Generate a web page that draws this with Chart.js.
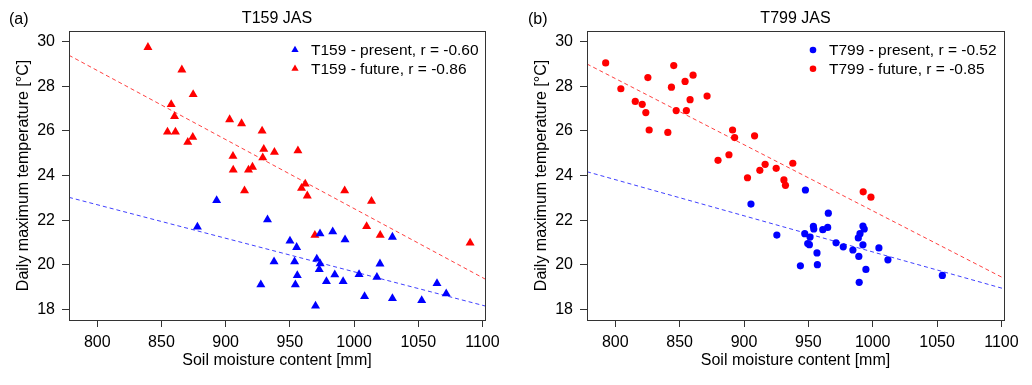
<!DOCTYPE html>
<html>
<head>
<meta charset="utf-8">
<script src="https://cdn.jsdelivr.net/npm/chart.js@4/dist/chart.umd.min.js"></script>
<style>
  html, body { margin: 0; padding: 0; background: #fff; }
  #wrap { display: flex; width: 1032px; height: 385px; }
  canvas { display: block; }
</style>
</head>
<body>
<div id="wrap">
  <canvas id="c159" width="516" height="385"></canvas>
  <canvas id="c799" width="516" height="385"></canvas>
</div>
<script>
// Axis ticks and ranges
const xTicks = [800, 850, 900, 950, 1000, 1050, 1100];
const yTicks = [18, 20, 22, 24, 26, 28, 30];
const xRange = [778, 1102];
const yRange = [17.52, 30.48];

// T159 (triangles)
const t159PresentSoil = [893, 878, 932.6, 973.5, 983.4, 993, 1029.9, 950.1, 955.3, 937.7, 953.7, 971, 973.6, 972.9, 1020.2, 955.8, 985, 1003.9, 1017.8, 927.4, 954.3, 978.5, 991.5, 1064.6, 1008.2, 1029.9, 1052.7, 1071.8, 970];
const t159PresentTemp = [22.88, 21.69, 22.02, 21.39, 21.48, 21.12, 21.24, 21.07, 20.78, 20.14, 20.14, 20.26, 20.05, 19.79, 20.04, 19.52, 19.55, 19.56, 19.44, 19.10, 19.10, 19.25, 19.25, 19.16, 18.58, 18.49, 18.40, 18.70, 18.15];
const t159FutureSoil = [839.5, 865.9, 874.7, 857.6, 860.2, 854.7, 860.9, 870.5, 874.4, 903.1, 912.4, 928.4, 929.7, 928.9, 938, 956.3, 905.7, 905.9, 917.8, 920.9, 914.7, 959.1, 962, 963.6, 992.7, 1013.6, 1009.8, 1020.4, 969.5, 1090.4];
const t159FutureTemp = [29.75, 28.74, 27.64, 27.19, 26.65, 25.95, 25.95, 25.49, 25.72, 26.51, 26.33, 26.0, 25.18, 24.8, 25.05, 25.11, 24.87, 24.25, 24.25, 24.38, 23.32, 23.43, 23.62, 23.09, 23.32, 22.85, 21.72, 21.32, 21.32, 20.98];
// regression lines: y at xRange[0] and xRange[1]
const t159PresentFit = [23.02, 18.15];
const t159FutureFit = [29.39, 19.36];

// T799 (circles)
const t799PresentSoil = [947.7, 905.4, 965.5, 925.5, 947.2, 951.3, 953.9, 954.2, 961.2, 965, 949.5, 950.8, 956.7, 943.8, 957, 971.5, 977.1, 984.6, 989.2, 992.4, 993.4, 990.1, 988.8, 992.4, 1004.8, 1011.8, 994.7, 989.5, 1054.1];
const t799PresentTemp = [23.35, 22.72, 22.31, 21.33, 21.39, 21.24, 21.72, 21.6, 21.57, 21.67, 20.95, 20.9, 20.53, 19.95, 20.0, 20.98, 20.8, 20.66, 20.37, 21.73, 21.6, 21.39, 21.2, 20.89, 20.75, 20.22, 19.79, 19.21, 19.52];
const t799FutureSoil = [792.5, 804.3, 825.3, 815.5, 820.9, 823.7, 826.3, 840.8, 845.4, 843.6, 847.3, 855.2, 854.2, 860.4, 858.1, 871.3, 891.1, 892.7, 908.2, 879.8, 888.3, 916.4, 912.3, 925, 937.9, 902.7, 931, 932.2, 992.6, 998.6];
const t799FutureTemp = [29.05, 27.89, 28.39, 27.32, 27.19, 26.82, 26.04, 25.93, 28.93, 27.96, 26.91, 26.91, 28.22, 28.5, 27.4, 27.56, 26.04, 25.70, 25.78, 24.68, 24.93, 24.5, 24.23, 24.32, 24.55, 23.9, 23.8, 23.56, 23.27, 23.03];
const t799PresentFit = [24.17, 18.92];
const t799FutureFit = [29.0, 19.39];

const BLUE = '#0000ff';
const RED = '#ff0000';
const FONT = "'Liberation Sans', Arial, Helvetica, sans-serif";

Chart.defaults.font.family = FONT;
Chart.defaults.color = '#000';

const pts = (xs, ys) => xs.map((x, i) => ({ x, y: ys[i] }));
const fitLine = f => [{ x: xRange[0], y: f[0] }, { x: xRange[1], y: f[1] }];

// box, title, panel letter and legend
const decor = {
  id: 'decor',
  afterDraw(chart, args, o) {
    const { ctx, chartArea: a } = chart;
    ctx.save();
    ctx.strokeStyle = '#333';
    ctx.lineWidth = 1;
    ctx.strokeRect(Math.round(a.left) + 0.5, Math.round(a.top) + 0.5,
      Math.round(a.right - a.left), Math.round(a.bottom - a.top));

    ctx.fillStyle = '#000';
    ctx.textBaseline = 'middle';
    ctx.font = '16px ' + FONT;
    ctx.textAlign = 'center';
    ctx.fillText(o.title, (a.left + a.right) / 2, 19);
    ctx.textAlign = 'left';
    ctx.fillText(o.letter, o.letterX, 20);

    // legend: scatter datasets only
    ctx.font = '15.5px ' + FONT;
    chart.data.datasets.filter(d => d.type !== 'line').forEach((d, i) => {
      const y = 50 + i * 18.7;
      const mx = a.left + 226;
      ctx.fillStyle = d.backgroundColor;
      Chart.helpers.drawPoint(ctx, { pointStyle: d.pointStyle, radius: o.legendRadius, rotation: 0, borderWidth: 0 }, mx, y);
      ctx.fillStyle = '#000';
      ctx.fillText(d.label, mx + 16, y + 1);
    });
    ctx.restore();
  }
};

function makeChart(id, p) {
  return new Chart(document.getElementById(id), {
    type: 'scatter',
    data: {
      datasets: [
        { label: p.name + ' - present, r = ' + p.rPresent, data: pts(p.presentSoil, p.presentTemp),
          pointStyle: p.marker, backgroundColor: BLUE, borderWidth: 0, pointRadius: p.radius },
        { label: p.name + ' - future, r = ' + p.rFuture, data: pts(p.futureSoil, p.futureTemp),
          pointStyle: p.marker, backgroundColor: RED, borderWidth: 0, pointRadius: p.radius },
        { type: 'line', data: fitLine(p.presentFit), borderColor: 'rgba(0,0,255,0.75)', borderWidth: 1,
          borderDash: [4, 3], pointRadius: 0, fill: false },
        { type: 'line', data: fitLine(p.futureFit), borderColor: 'rgba(255,0,0,0.75)', borderWidth: 1,
          borderDash: [4, 3], pointRadius: 0, fill: false }
      ]
    },
    options: {
      responsive: false,
      animation: false,
      devicePixelRatio: 1,
      layout: { padding: { top: 31, right: p.rightPad, left: 0, bottom: 0 } },
      plugins: {
        legend: { display: false },
        tooltip: { enabled: false },
        decor: { title: p.title, letter: p.letter, letterX: p.letterX, legendRadius: p.legendRadius }
      },
      scales: {
        x: {
          type: 'linear', min: xRange[0], max: xRange[1],
          afterBuildTicks: s => { s.ticks = xTicks.map(v => ({ value: v })); },
          afterFit: s => { s.height = 65; },
          border: { display: false },
          grid: { drawOnChartArea: false, drawTicks: true, tickLength: 7, color: '#333' },
          ticks: { font: { size: 16 }, padding: 6, maxRotation: 0, autoSkip: false, callback: v => String(v) },
          title: { display: true, text: 'Soil moisture content [mm]', font: { size: 16 }, padding: { top: 0, bottom: 15 } }
        },
        y: {
          type: 'linear', min: yRange[0], max: yRange[1],
          afterBuildTicks: s => { s.ticks = yTicks.map(v => ({ value: v })); },
          afterFit: s => { s.width = p.left; },
          border: { display: false },
          grid: { drawOnChartArea: false, drawTicks: true, tickLength: 7, color: '#333' },
          ticks: { font: { size: 16 }, padding: 7, autoSkip: false, callback: v => String(v) },
          title: { display: true, text: 'Daily maximum temperature [°C]', font: { size: 16 }, padding: { top: p.left - 55, bottom: 0 } }
        }
      }
    },
    plugins: [decor]
  });
}

makeChart('c159', {
  name: 'T159', title: 'T159 JAS', letter: '(a)', letterX: 9,
  rPresent: '-0.60', rFuture: '-0.86',
  presentSoil: t159PresentSoil, presentTemp: t159PresentTemp,
  futureSoil: t159FutureSoil, futureTemp: t159FutureTemp,
  presentFit: t159PresentFit, futureFit: t159FutureFit,
  marker: 'triangle', radius: 5.2, legendRadius: 4.2,
  left: 69, rightPad: 31
});

makeChart('c799', {
  name: 'T799', title: 'T799 JAS', letter: '(b)', letterX: 12,
  rPresent: '-0.52', rFuture: '-0.85',
  presentSoil: t799PresentSoil, presentTemp: t799PresentTemp,
  futureSoil: t799FutureSoil, futureTemp: t799FutureTemp,
  presentFit: t799PresentFit, futureFit: t799FutureFit,
  marker: 'circle', radius: 3.6, legendRadius: 3.3,
  left: 71, rightPad: 28
});
</script>
</body>
</html>
